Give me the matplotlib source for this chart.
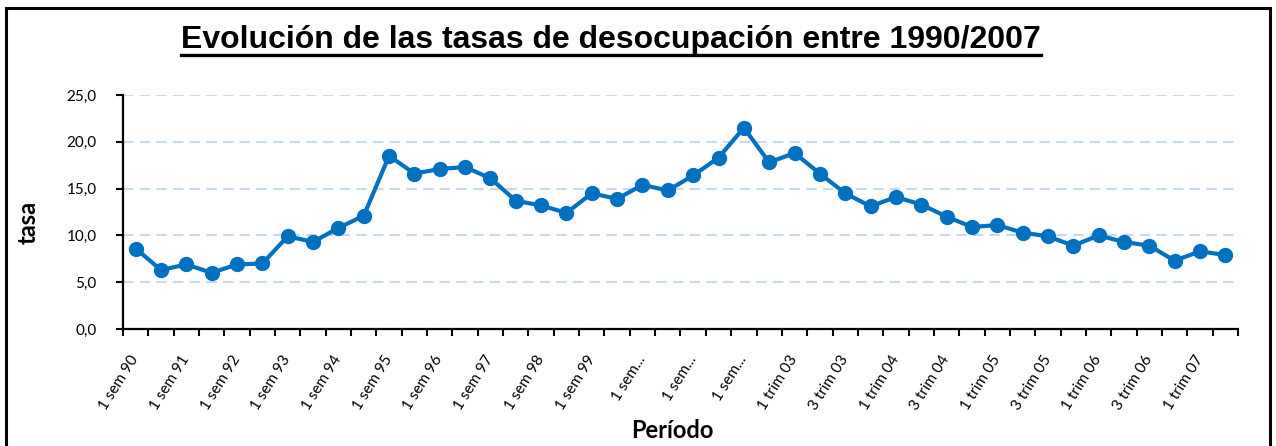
import matplotlib
matplotlib.use('Agg')
import matplotlib.pyplot as plt
from matplotlib.patches import Rectangle
from matplotlib.lines import Line2D
from matplotlib.ticker import FuncFormatter
import numpy as np

# Periods: semesters 1990-2002, then quarters 2003-2007
periodos = [f'{s} sem {y:02d}' for y in range(90, 100) for s in (1, 2)] + \
           [f'{s} sem 0{y}' for y in range(0, 3) for s in (1, 2)] + \
           [f'{q} trim 0{y}' for y in range(3, 7) for q in (1, 2, 3, 4)] + \
           ['1 trim 07', '2 trim 07']

tasa = [8.6, 6.3, 6.9, 6.0, 6.9, 7.0, 9.9, 9.3, 10.8, 12.1,
        18.5, 16.6, 17.1, 17.3, 16.1, 13.7, 13.2, 12.4, 14.5, 13.9,
        15.4, 14.8, 16.4, 18.3, 21.5, 17.8, 18.8, 16.6, 14.5, 13.1,
        14.1, 13.3, 12.0, 10.9, 11.1, 10.3, 9.9, 8.9, 10.0, 9.3,
        8.9, 7.3, 8.3, 7.9]

# labels as shown in the chart (every second period, long ones cut)
etiquetas = ['1 sem 90', '1 sem 91', '1 sem 92', '1 sem 93', '1 sem 94',
             '1 sem 95', '1 sem 96', '1 sem 97', '1 sem 98', '1 sem 99',
             '1 sem...', '1 sem...', '1 sem...',
             '1 trim 03', '3 trim 03', '1 trim 04', '3 trim 04',
             '1 trim 05', '3 trim 05', '1 trim 06', '3 trim 06', '1 trim 07']

W, H = 1276, 446
fig = plt.figure(figsize=(W / 100, H / 100), dpi=100)
ax = fig.add_axes([123 / W, 1 - 329 / H, (1238 - 123) / W, (329 - 95) / H])

x = np.arange(len(tasa))
ax.plot(x, tasa, '-o', color='#0070C0', linewidth=3.0, markersize=10, zorder=3)

ax.set_xlim(-0.5, len(tasa) - 0.5)
ax.set_ylim(0, 25)
ax.set_yticks(np.arange(0, 26, 5))
ax.yaxis.set_major_formatter(FuncFormatter(lambda v, p: f'{v:.1f}'.replace('.', ',')))
ax.grid(axis='y', color='#C5D9F1', linestyle=(0, (5, 3)), linewidth=1.5, zorder=1)

ax.set_xticks(x[::2])
ax.set_xticklabels(etiquetas, rotation=58, ha='right', va='center',
                   rotation_mode='anchor', fontsize=11, family='Lato')
ax.set_xticks(np.arange(-0.5, len(tasa), 1), minor=True)
ax.tick_params(axis='x', which='major', length=0, pad=20)
ax.tick_params(axis='x', which='minor', length=5, width=1.5, direction='out')
ax.tick_params(axis='y', length=5, width=1.5, pad=14, labelsize=11)
for lab in ax.get_yticklabels():
    lab.set_family('Lato')

for s in ('top', 'right'):
    ax.spines[s].set_visible(False)
for s in ('left', 'bottom'):
    ax.spines[s].set_linewidth(1.6)

fig.text(28 / W, 1 - 222 / H, 'tasa', rotation=90, ha='center', va='center',
         fontsize=17, fontweight='bold', family='Lato')
fig.text(672 / W, 1 - 430 / H, 'Período', ha='center', va='center',
         fontsize=17, fontweight='bold', family='Lato')

titulo = fig.text(611 / W, 1 - 48 / H, 'Evolución de las tasas de desocupación entre 1990/2007',
                  ha='center', va='baseline', fontsize=23, fontweight='bold',
                  family='Liberation Sans')

# underline the title
fig.canvas.draw()
bb = titulo.get_window_extent()
y_line = 1 - 55 / H
fig.add_artist(Line2D([bb.x0 / W, bb.x1 / W], [y_line, y_line], color='black',
                      linewidth=2.4, transform=fig.transFigure))

# chart frame
fig.add_artist(Rectangle((6 / W, -0.1), (1270 - 6) / W, 1.1 - 8 / H,
                         transform=fig.transFigure, fill=False,
                         edgecolor='black', linewidth=2.2, clip_on=False))

fig.savefig('out.png', dpi=100)
